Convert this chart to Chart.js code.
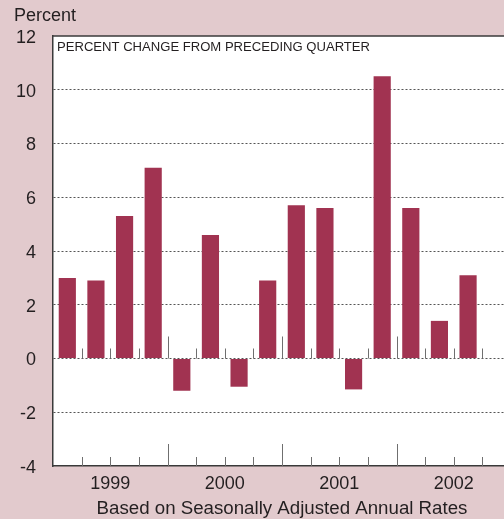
<!DOCTYPE html>
<html><head><meta charset="utf-8">
<script src="https://cdn.jsdelivr.net/npm/chart.js@4"></script>
<style>
html,body{margin:0;padding:0;overflow:hidden;background:#E2CACD;width:504px;height:519px}
#wrap{width:511px;height:519px}
</style></head><body>
<div id="wrap"><canvas id="c" width="511" height="519"></canvas></div>
<script>
const quarters = ['1999Q1','1999Q2','1999Q3','1999Q4','2000Q1','2000Q2','2000Q3','2000Q4','2001Q1','2001Q2','2001Q3','2001Q4','2002Q1','2002Q2','2002Q3','2002Q4'];
const years = ['1999','2000','2001','2002'];
const changes = [3.0, 2.9, 5.3, 7.1, -1.2, 4.6, -1.05, 2.9, 5.7, 5.6, -1.15, 10.5, 5.6, 1.4, 3.1, null];
const yTicks = [-4,-2,0,2,4,6,8,10,12];
const yAxisTitle = 'Percent';
const innerTitle = 'PERCENT CHANGE FROM PRECEDING QUARTER';
const xAxisTitle = 'Based on Seasonally Adjusted Annual Rates';

const TXT = '#231f20';
const FAM = '"Liberation Sans", Arial, sans-serif';
const decor = {
  id:'decor',
  afterDatasetsDraw(chart){
    const {ctx, chartArea:a, scales:{x,y}} = chart;
    const n = quarters.length;
    const w = (a.right - a.left)/n;
    const y0 = y.getPixelForValue(0);
    ctx.save();
    ctx.strokeStyle='#6f6f6f';
    ctx.lineWidth=1;
    for(let i=1;i<n;i++){
      const px = Math.round(a.left + i*w)+0.5;
      const major = i%4===0;
      ctx.beginPath();
      ctx.moveTo(px, y0-(major?22:10)); ctx.lineTo(px, y0);
      ctx.moveTo(px, a.bottom-(major?22:9)); ctx.lineTo(px, a.bottom);
      ctx.stroke();
    }
    ctx.strokeStyle='#3a3a3a';
    ctx.lineWidth=1.5;
    ctx.beginPath(); ctx.moveTo(a.left, a.top); ctx.lineTo(a.right, a.top); ctx.stroke();
    ctx.fillStyle=TXT;
    ctx.font='18px '+FAM;
    ctx.textAlign='left'; ctx.textBaseline='alphabetic';
    ctx.fillText(yAxisTitle, 14, 21);
    ctx.textAlign='center';
    ctx.font='18.7px '+FAM;
    ctx.fillText(xAxisTitle, (a.left+a.right)/2, 514);
    ctx.textAlign='left';
    ctx.font='12.5px '+FAM;
    const tw = ctx.measureText(innerTitle).width;
    ctx.translate(a.left+4, 51);
    ctx.scale(313/tw,1);
    ctx.fillText(innerTitle, 0, 0);
    ctx.restore();
  }
};
const bgPlugin = {
  id:'bg',
  beforeDraw(chart){
    const {ctx, chartArea:a} = chart;
    ctx.save();
    ctx.fillStyle='#E2CACD';
    ctx.fillRect(0,0,chart.width,chart.height);
    ctx.fillStyle='#ffffff';
    ctx.fillRect(a.left,a.top,a.right-a.left,a.bottom-a.top);
    ctx.restore();
  }
};

new Chart(document.getElementById('c'), {
  type:'bar',
  data:{labels:quarters, datasets:[{data:changes, backgroundColor:'#A13351', borderWidth:0, barPercentage:0.6, categoryPercentage:1}]},
  options:{
    responsive:false, animation:false,
    layout:{padding:{left:0,top:36,right:0,bottom:0}},
    plugins:{legend:{display:false}, tooltip:{enabled:false}},
    scales:{
      x:{
        grid:{display:false, drawTicks:false},
        border:{display:true, color:'#3a3a3a', width:1.5},
        ticks:{
          autoSkip:false, maxRotation:0, minRotation:0, padding:7,
          labelOffset: 14.3,
          color:TXT, font:{size:18, family:FAM},
          callback:(v,i)=> i%4===1 ? years[(i-1)/4] : ''
        },
        afterFit:(s)=>{s.height=53;}
      },
      y:{
        min:-4, max:12,
        afterBuildTicks:(s)=>{s.ticks = yTicks.map(v=>({value:v}));},
        grid:{
          drawTicks:false,
          color:(c)=> (c.tick && (c.tick.value===12 || c.tick.value===-4)) ? 'rgba(0,0,0,0)' : '#555',
          lineWidth:1
        },
        border:{display:true, color:'#3a3a3a', width:1.5, dash:[2,2]},
        ticks:{padding:17, labelOffset:2, color:TXT, font:{size:18, family:FAM}},
        afterFit:(s)=>{s.width=53;}
      }
    }
  },
  plugins:[bgPlugin, decor]
});
</script>
</body></html>
